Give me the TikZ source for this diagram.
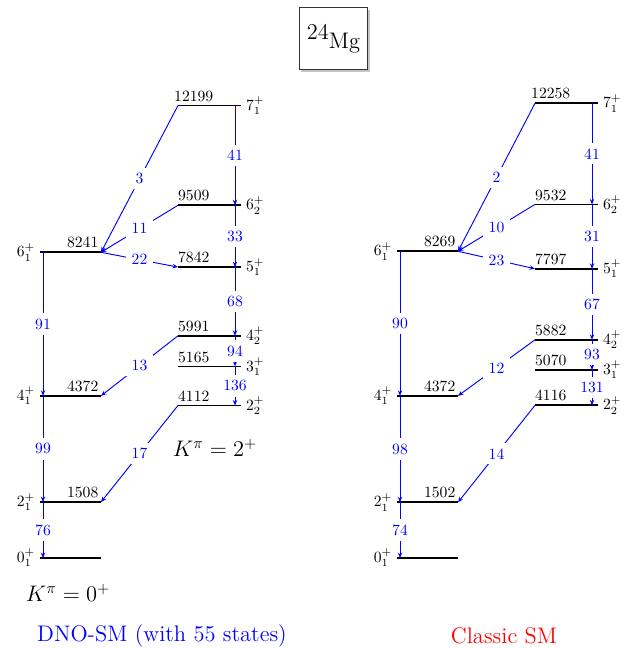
\documentclass[tikz,border=0pt]{standalone}
\usetikzlibrary{arrows.meta,shadows}
\newcommand\lvl[6]{%
  \coordinate (#1L) at (#2,{558-0.0371*#5});
  \coordinate (#1R) at (#3,{558-0.0371*#5});
  \coordinate (#1V) at (#4,{558-0.0371*#5});
  \draw[lev] (#1L) -- node[en,pos=#6] (#1e) {#5} (#1R);}
\begin{document}
\begin{tikzpicture}[x=0.64pt,y=-0.64pt,
  lev/.style={line width=1.1pt},
  tr/.style={blue, line width=0.6pt, -{Stealth[length=3.5pt,width=2.8pt]}},
  bval/.style={fill=white, text=blue, midway},
  en/.style={anchor=south, inner sep=2pt},
  jl/.style={left, inner sep=3pt},
  jr/.style={right, inner sep=3pt},
  ktext/.style={font=\Large}]
\useasboundingbox (0,0) rectangle (631,648);

% title
\node[draw=black!80, line width=0.5pt, fill=white, minimum width=44pt, minimum height=40pt, inner sep=0pt,
  drop shadow={shadow xshift=1.5pt, shadow yshift=-1.5pt, fill=black!45}] (title) at (333.5,38.5)
  {\Large\raisebox{5.5pt}{24}Mg};

% ---------- DNO-SM ----------
\coordinate (a0L) at (40,558); \coordinate (a0R) at (101,558); \coordinate (a0V) at (43,558);
\draw[lev] (a0L) -- (a0R);
\lvl{a2}{40}{101}{43}{1508}{0.70}
\lvl{a4}{40}{101}{43}{4372}{0.70}
\lvl{a6}{40}{101}{43}{8241}{0.70}
\lvl{a7}{178}{241}{235}{12199}{0.25}
\lvl{a6b}{178}{241}{235}{9509}{0.25}
\lvl{a5}{178}{241}{235}{7842}{0.25}
\lvl{a4b}{178}{241}{235}{5991}{0.25}
\lvl{a3}{178}{241}{235}{5165}{0.25}
\lvl{a2b}{178}{241}{235}{4112}{0.25}

\node[jl] (a0j) at (a0L) {$0_1^+$};
\node[jl] (a2j) at (a2L) {$2_1^+$};
\node[jl] (a4j) at (a4L) {$4_1^+$};
\node[jl] (a6j) at (a6L) {$6_1^+$};
\node[jr] (a7j) at (a7R) {$7_1^+$};
\node[jr] (a6bj) at (a6bR) {$6_2^+$};
\node[jr] (a5j) at (a5R) {$5_1^+$};
\node[jr] (a4bj) at (a4bR) {$4_2^+$};
\node[jr] (a3j) at (a3R) {$3_1^+$};
\node[jr] (a2bj) at (a2bR) {$2_2^+$};

\draw[tr] (a6V) -- node[bval] (ab91) {91} (a4V);
\draw[tr] (a4V) -- node[bval] (ab99) {99} (a2V);
\draw[tr] (a2V) -- node[bval] (ab76) {76} (a0V);
\draw[tr] (a7V) -- node[bval] (ab41) {41} (a6bV);
\draw[tr] (a6bV) -- node[bval] (ab33) {33} (a5V);
\draw[tr] (a5V) -- node[bval] (ab68) {68} (a4bV);
\draw[tr] (a4bV) -- node[bval] (ab94) {94} (a3V);
\draw[tr] (a3V) -- node[bval] (ab136) {136} (a2bV);
\draw[tr] (a7L) -- node[bval] (ab3) {3} (a6R);
\draw[tr] (a6bL) -- node[bval] (ab11) {11} (a6R);
\draw[tr] (a6R) -- node[bval] (ab22) {22} (a5L);
\draw[tr] (a4bL) -- node[bval] (ab13) {13} (a4R);
\draw[tr] (a2bL) -- node[bval] (ab17) {17} (a2R);

\node[ktext] (k2) at (215,448) {$K^\pi = 2^+$};
\node[ktext] (k0) at (68,593) {$K^\pi = 0^+$};
\node[font=\Large, text=blue] (dno) at (162,636) {DNO-SM (with 55 states)};

% ---------- Classic SM ----------
\begin{scope}[shift={(357,0)}]
\coordinate (b0L) at (40,558); \coordinate (b0R) at (101,558); \coordinate (b0V) at (43,558);
\draw[lev] (b0L) -- (b0R);
\lvl{b2}{40}{101}{43}{1502}{0.70}
\lvl{b4}{40}{101}{43}{4372}{0.70}
\lvl{b6}{40}{101}{43}{8269}{0.70}
\lvl{b7}{178}{241}{235}{12258}{0.25}
\lvl{b6b}{178}{241}{235}{9532}{0.25}
\lvl{b5}{178}{241}{235}{7797}{0.25}
\lvl{b4b}{178}{241}{235}{5882}{0.25}
\lvl{b3}{178}{241}{235}{5070}{0.25}
\lvl{b2b}{178}{241}{235}{4116}{0.25}

\node[jl] (b0j) at (b0L) {$0_1^+$};
\node[jl] (b2j) at (b2L) {$2_1^+$};
\node[jl] (b4j) at (b4L) {$4_1^+$};
\node[jl] (b6j) at (b6L) {$6_1^+$};
\node[jr] (b7j) at (b7R) {$7_1^+$};
\node[jr] (b6bj) at (b6bR) {$6_2^+$};
\node[jr] (b5j) at (b5R) {$5_1^+$};
\node[jr] (b4bj) at (b4bR) {$4_2^+$};
\node[jr] (b3j) at (b3R) {$3_1^+$};
\node[jr] (b2bj) at (b2bR) {$2_2^+$};

\draw[tr] (b6V) -- node[bval] (bb90) {90} (b4V);
\draw[tr] (b4V) -- node[bval] (bb98) {98} (b2V);
\draw[tr] (b2V) -- node[bval] (bb74) {74} (b0V);
\draw[tr] (b7V) -- node[bval] (bb41) {41} (b6bV);
\draw[tr] (b6bV) -- node[bval] (bb31) {31} (b5V);
\draw[tr] (b5V) -- node[bval] (bb67) {67} (b4bV);
\draw[tr] (b4bV) -- node[bval] (bb93) {93} (b3V);
\draw[tr] (b3V) -- node[bval] (bb131) {131} (b2bV);
\draw[tr] (b7L) -- node[bval] (bb2) {2} (b6R);
\draw[tr] (b6bL) -- node[bval] (bb10) {10} (b6R);
\draw[tr] (b6R) -- node[bval] (bb23) {23} (b5L);
\draw[tr] (b4bL) -- node[bval] (bb12) {12} (b4R);
\draw[tr] (b2bL) -- node[bval] (bb14) {14} (b2R);

\node[font=\Large, text=red] (csm) at (147,636) {Classic SM};
\end{scope}
\end{tikzpicture}
\end{document}
